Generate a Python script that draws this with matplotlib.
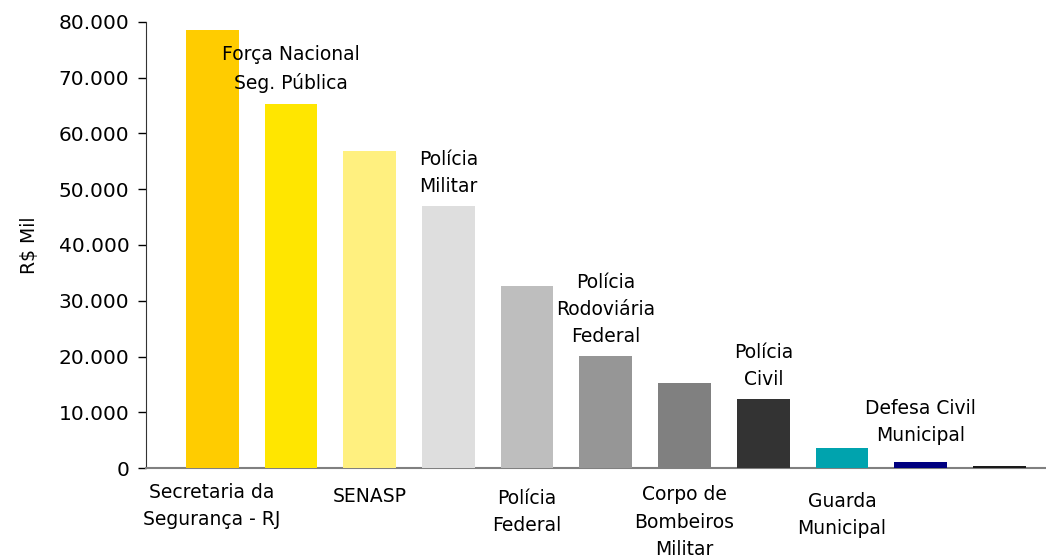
import matplotlib.pyplot as plt
from matplotlib.ticker import FuncFormatter

plt.rcParams['font.family'] = ['DejaVu Sans']
fs = 13.5
fs_tick = 14.5

# dados (R$ mil)
categorias = ['Secretaria da\nSegurança - RJ', 'Força Nacional\nSeg. Pública', 'SENASP',
              'Polícia\nMilitar', 'Polícia\nFederal', 'Polícia\nRodoviária\nFederal',
              'Corpo de\nBombeiros\nMilitar', 'Polícia\nCivil', 'Guarda\nMunicipal',
              'Defesa Civil\nMunicipal', '']
valores = [78500, 65300, 56900, 47000, 32700, 20100, 15300, 12400, 3600, 1100, 300]
cores = ['#FFCC00', '#FFE600', '#FFF07F', '#DEDEDE', '#BEBEBE', '#969696',
         '#808080', '#333333', '#00A3AE', '#000080', '#1A1A1A']
# rótulo acima da barra (True) ou abaixo do eixo (False)
acima = [False, True, False, True, False, True, False, True, False, True, None]
y_abaixo = [-2600, None, -3400, None, -3700, None, -3100, None, -4200, None, None]
dist_acima = [None, 8, None, 7, None, 7, None, 7, None, 12, None]

fig = plt.figure(figsize=(10.46, 5.6), dpi=100)
ax = fig.add_axes([0.1396, 0.164, 0.8604, 0.797])

x = list(range(len(valores)))
ax.bar(x, valores, width=0.67, color=cores, zorder=3)

for i, txt in enumerate(categorias):
    if not txt:
        continue
    if acima[i]:
        ax.annotate(txt, (i, valores[i]), xytext=(0, dist_acima[i]), textcoords='offset points',
                    ha='center', va='bottom', fontsize=fs, linespacing=1.55)
    else:
        ax.text(i, y_abaixo[i], txt, ha='center', va='top', fontsize=fs,
                linespacing=1.55, clip_on=False)

ax.set_xlim(-0.84, 10.59)
ax.set_ylim(0, 80000)
ax.set_yticks(range(0, 80001, 10000))
ax.yaxis.set_major_formatter(FuncFormatter(lambda v, p: '0' if v == 0 else f'{int(v):,}'.replace(',', '.')))
ax.tick_params(axis='y', labelsize=fs_tick, length=6, width=1, direction='out', pad=6)
ax.set_xticks([])
ax.set_ylabel('R$ Mil', fontsize=fs, labelpad=14)

for s in ['top', 'right']:
    ax.spines[s].set_visible(False)
ax.spines['left'].set_color('#333333')
ax.spines['bottom'].set_color('#808080')
ax.spines['bottom'].set_linewidth(1.5)

plt.savefig('out.png', dpi=100)
